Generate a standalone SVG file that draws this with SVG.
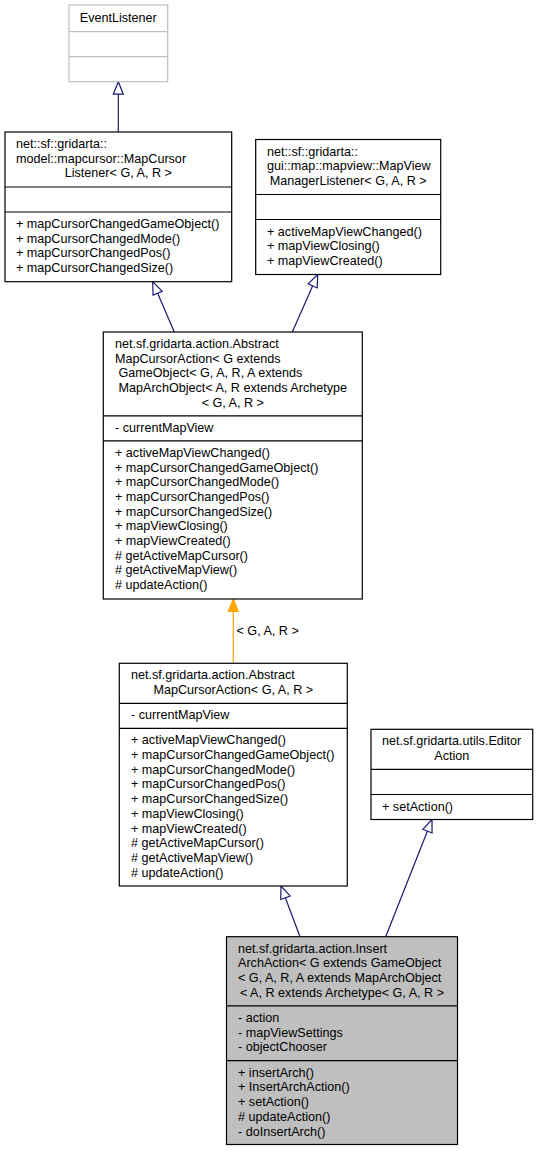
<svg xmlns="http://www.w3.org/2000/svg" width="538" height="1151" viewBox="0 0 538 1151">
<style>
text{font-family:"Liberation Sans",Arial,Helvetica,sans-serif;font-size:12.6px;fill:#000}
.c{text-anchor:middle}
.box{fill:#fff;stroke:#000;stroke-width:1.2}
.gbox{fill:#fff;stroke:#bfbfbf;stroke-width:1.2}
.sel{fill:#bfbfbf;stroke:#000;stroke-width:1.2}
.div{stroke:#000;stroke-width:1.2}
.gdiv{stroke:#bfbfbf;stroke-width:1.2}
.inh{stroke:#191970;stroke-width:1.2;fill:none;marker-end:url(#tri)}
.tpl{stroke:#ffa500;stroke-width:1.2;fill:none;marker-end:url(#otri)}
</style>
<defs>
<marker id="tri" markerWidth="16" markerHeight="14" refX="14" refY="7" orient="auto" markerUnits="userSpaceOnUse"><path d="M1.5,2 L14,7 L1.5,12 Z" fill="#fff" stroke="#191970" stroke-width="1.2"/></marker>
<marker id="otri" markerWidth="16" markerHeight="14" refX="14" refY="7" orient="auto" markerUnits="userSpaceOnUse"><path d="M1.5,2 L14,7 L1.5,12 Z" fill="#ffa500" stroke="#ffa500" stroke-width="1.2"/></marker>
</defs>

<g id="connectors">
<line class="inh" x1="118.3" y1="132" x2="118.3" y2="81.7"/>
<line class="inh" x1="174.3" y1="332" x2="152.7" y2="281.7"/>
<line class="inh" x1="292.3" y1="332" x2="317.7" y2="274.5"/>
<line class="tpl" x1="233.3" y1="663.3" x2="233.3" y2="599"/>
<text x="236.5" y="635">&lt; G, A, R &gt;</text>
<line class="inh" x1="300" y1="936.7" x2="281" y2="886"/>
<line class="inh" x1="385.7" y1="936.7" x2="432" y2="819.5"/>
</g>

<g id="EventListener">
<rect class="gbox" x="69" y="5" width="98.7" height="76.7"/>
<line class="gdiv" x1="69" y1="31.7" x2="167.7" y2="31.7"/>
<line class="gdiv" x1="69" y1="56.7" x2="167.7" y2="56.7"/>
<text class="c" x="118.3" y="21.5">EventListener</text>
</g>

<g id="MapCursorListener">
<rect class="box" x="5" y="132" width="226.7" height="149.7"/>
<line class="div" x1="5" y1="187" x2="231.7" y2="187"/>
<line class="div" x1="5" y1="212" x2="231.7" y2="212"/>
<text x="16" y="148">net::sf::gridarta::</text>
<text x="16" y="162.7">model::mapcursor::MapCursor</text>
<text class="c" x="118.3" y="177.4">Listener&lt; G, A, R &gt;</text>
<text x="16" y="228">+ mapCursorChangedGameObject()</text>
<text x="16" y="242.7">+ mapCursorChangedMode()</text>
<text x="16" y="257.4">+ mapCursorChangedPos()</text>
<text x="16" y="272.1">+ mapCursorChangedSize()</text>
</g>

<g id="MapViewManagerListener">
<rect class="box" x="255.7" y="139.5" width="185" height="135"/>
<line class="div" x1="255.7" y1="194.5" x2="440.7" y2="194.5"/>
<line class="div" x1="255.7" y1="219.5" x2="440.7" y2="219.5"/>
<text x="267" y="155.5">net::sf::gridarta::</text>
<text x="267" y="170.2">gui::map::mapview::MapView</text>
<text class="c" x="348.2" y="184.9">ManagerListener&lt; G, A, R &gt;</text>
<text x="267" y="235.5">+ activeMapViewChanged()</text>
<text x="267" y="250.2">+ mapViewClosing()</text>
<text x="267" y="264.9">+ mapViewCreated()</text>
</g>

<g id="AbstractMapCursorActionExt">
<rect class="box" x="103.3" y="332" width="259" height="267"/>
<line class="div" x1="103.3" y1="415.8" x2="362.3" y2="415.8"/>
<line class="div" x1="103.3" y1="440.8" x2="362.3" y2="440.8"/>
<text x="115" y="348">net.sf.gridarta.action.Abstract</text>
<text x="115" y="362.7">MapCursorAction&lt; G extends</text>
<text x="118.5" y="377.4">GameObject&lt; G, A, R, A extends</text>
<text x="118.5" y="392.1">MapArchObject&lt; A, R extends Archetype</text>
<text class="c" x="232.8" y="406.8">&lt; G, A, R &gt;</text>
<text x="115" y="431.8">- currentMapView</text>
<text x="115" y="456.8">+ activeMapViewChanged()</text>
<text x="115" y="471.5">+ mapCursorChangedGameObject()</text>
<text x="115" y="486.2">+ mapCursorChangedMode()</text>
<text x="115" y="500.9">+ mapCursorChangedPos()</text>
<text x="115" y="515.6">+ mapCursorChangedSize()</text>
<text x="115" y="530.3">+ mapViewClosing()</text>
<text x="115" y="545">+ mapViewCreated()</text>
<text x="115" y="559.7"># getActiveMapCursor()</text>
<text x="115" y="574.4"># getActiveMapView()</text>
<text x="115" y="589.1"># updateAction()</text>
</g>

<g id="AbstractMapCursorAction">
<rect class="box" x="119.3" y="663.3" width="228" height="222.7"/>
<line class="div" x1="119.3" y1="703.3" x2="347.3" y2="703.3"/>
<line class="div" x1="119.3" y1="728.3" x2="347.3" y2="728.3"/>
<text x="131" y="679.3">net.sf.gridarta.action.Abstract</text>
<text class="c" x="233.3" y="694">MapCursorAction&lt; G, A, R &gt;</text>
<text x="131" y="719.3">- currentMapView</text>
<text x="131" y="744.3">+ activeMapViewChanged()</text>
<text x="131" y="759">+ mapCursorChangedGameObject()</text>
<text x="131" y="773.7">+ mapCursorChangedMode()</text>
<text x="131" y="788.4">+ mapCursorChangedPos()</text>
<text x="131" y="803.1">+ mapCursorChangedSize()</text>
<text x="131" y="817.8">+ mapViewClosing()</text>
<text x="131" y="832.5">+ mapViewCreated()</text>
<text x="131" y="847.2"># getActiveMapCursor()</text>
<text x="131" y="861.9"># getActiveMapView()</text>
<text x="131" y="876.6"># updateAction()</text>
</g>

<g id="EditorAction">
<rect class="box" x="371" y="729.3" width="161.7" height="90.2"/>
<line class="div" x1="371" y1="769.3" x2="532.7" y2="769.3"/>
<line class="div" x1="371" y1="794.5" x2="532.7" y2="794.5"/>
<text x="382" y="745.3">net.sf.gridarta.utils.Editor</text>
<text class="c" x="451.8" y="760">Action</text>
<text x="382" y="810.5">+ setAction()</text>
</g>

<g id="InsertArchAction">
<rect class="sel" x="226.5" y="936.7" width="231" height="207.8"/>
<line class="div" x1="226.5" y1="1005.8" x2="457.5" y2="1005.8"/>
<line class="div" x1="226.5" y1="1060.7" x2="457.5" y2="1060.7"/>
<text x="238" y="952.7">net.sf.gridarta.action.Insert</text>
<text x="238" y="967.4">ArchAction&lt; G extends GameObject</text>
<text x="238" y="982.1">&lt; G, A, R, A extends MapArchObject</text>
<text class="c" x="342" y="996.8">&lt; A, R extends Archetype&lt; G, A, R &gt;</text>
<text x="238" y="1021.8">- action</text>
<text x="238" y="1036.5">- mapViewSettings</text>
<text x="238" y="1051.2">- objectChooser</text>
<text x="238" y="1076.7">+ insertArch()</text>
<text x="238" y="1091.4">+ InsertArchAction()</text>
<text x="238" y="1106.1">+ setAction()</text>
<text x="238" y="1120.8"># updateAction()</text>
<text x="238" y="1135.5">- doInsertArch()</text>
</g>
</svg>
